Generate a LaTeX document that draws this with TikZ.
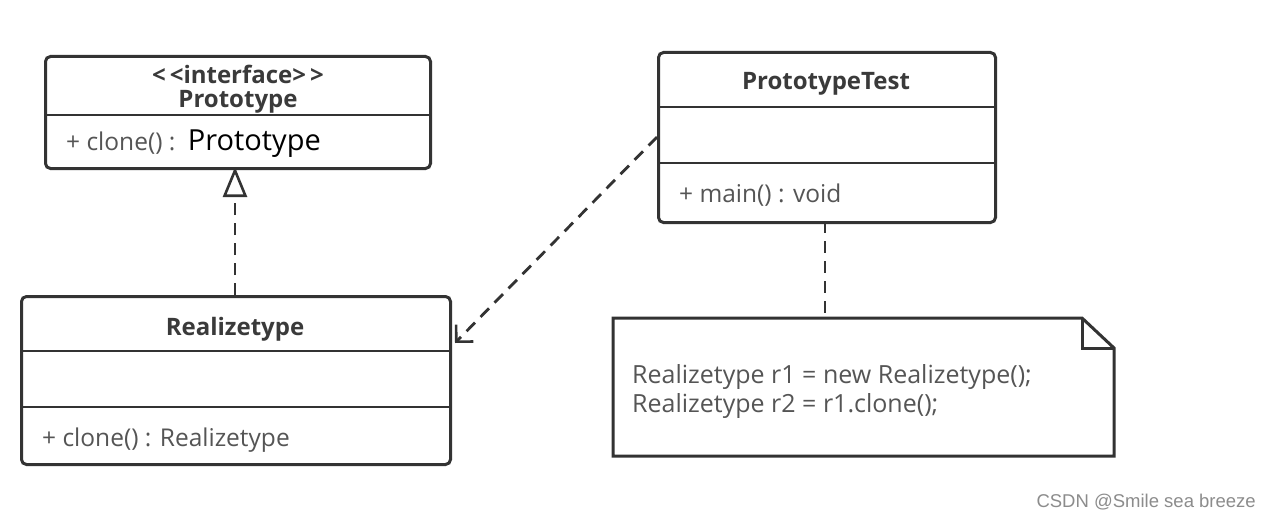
\documentclass[tikz,border=0pt]{standalone}
\usepackage{fontspec}
\setmainfont{Open Sans}
\newfontfamily\wmfont{Liberation Sans}
\usetikzlibrary{arrows.meta}
\definecolor{linec}{HTML}{333333}
\definecolor{titlec}{HTML}{3A3A3A}
\definecolor{memc}{HTML}{555555}
\tikzset{
  classbox/.style={draw=linec, line width=3pt, rounded corners=5pt, inner sep=0pt, anchor=north west},
  divider/.style={draw=linec, line width=2.6pt},
  titletext/.style={font=\fontsize{24}{27}\selectfont\bfseries, text=titlec, inner sep=0pt},
  memtext/.style={font=\fontsize{24.5}{28}\selectfont, text=memc, inner sep=0pt, anchor=west},
  conn/.style={draw=linec, line width=2.8pt, dash pattern=on 12pt off 8pt},
}
\begin{document}
\begin{tikzpicture}[x=1pt, y=-1pt]
\useasboundingbox[fill=white] (0,0) rectangle (1271,519);
% Prototype interface
\node[classbox, minimum width=385pt, minimum height=112pt] (proto) at (44,55) {};
\draw[divider] (44,115) -- (429,115);
\node[titletext] (protoSt) at (238,74) {<\,<interface>\,>};
\node[titletext] (protoName) at (238,102) {Prototype};
\node[memtext] (protoM) at (66,144) {+ clone() :\, {\fontsize{29}{32}\selectfont\color{black}Prototype}};
% PrototypeTest
\node[classbox, minimum width=337pt, minimum height=170pt] (test) at (657,51) {};
\draw[divider] (657,107) -- (994,107);
\draw[divider] (657,163) -- (994,163);
\node[titletext] (testName) at (826,84) {PrototypeTest};
\node[memtext] (testM) at (679,195) {+ main() : void};
% Realizetype
\node[classbox, minimum width=429pt, minimum height=168pt] (real) at (20,295) {};
\draw[divider] (20,351) -- (449,351);
\draw[divider] (20,407) -- (449,407);
\node[titletext] (realName) at (235,329) {Realizetype};
\node[memtext] (realM) at (42,440) {+ clone() : Realizetype};
% Note
\coordinate (nA) at (613,318);
\coordinate (nB) at (1082,318);
\coordinate (nC) at (1114,348);
\coordinate (nD) at (1114,456);
\coordinate (nE) at (613,456);
\draw[linec, line width=3pt, line join=miter] (nA) -- (nB) -- (nC) -- (nD) -- (nE) -- cycle;
\draw[linec, line width=3pt] (nB) -- (1082,348) -- (nC);
\node[memtext, align=left, font=\fontsize{25}{29}\selectfont] (noteT) at (632,392)
  {Realizetype r1 = new Realizetype();\\Realizetype r2 = r1.clone();};
% connectors
\coordinate (realTop) at (235,295);
\coordinate (protoBot) at (235,167);
\draw[conn, -{Triangle[open, length=30pt, width=24pt, line width=2.6pt]}] (realTop) -- (protoBot);
\coordinate (testLeft) at (657,137);
\coordinate (realRight) at (455,343);
\draw[conn, -{Straight Barb[length=12pt, width=24pt, line width=2.6pt]}] (testLeft) -- (realRight);
\coordinate (testBot) at (825,221);
\coordinate (noteTop) at (825,318);
\draw[conn] (testBot) -- (noteTop);
% watermark
\node[font=\wmfont\fontsize{18.5}{21}\selectfont, text=black!45, anchor=east, inner sep=0pt] (wm) at (1256,502) {CSDN @Smile sea breeze};
\end{tikzpicture}
\end{document}
